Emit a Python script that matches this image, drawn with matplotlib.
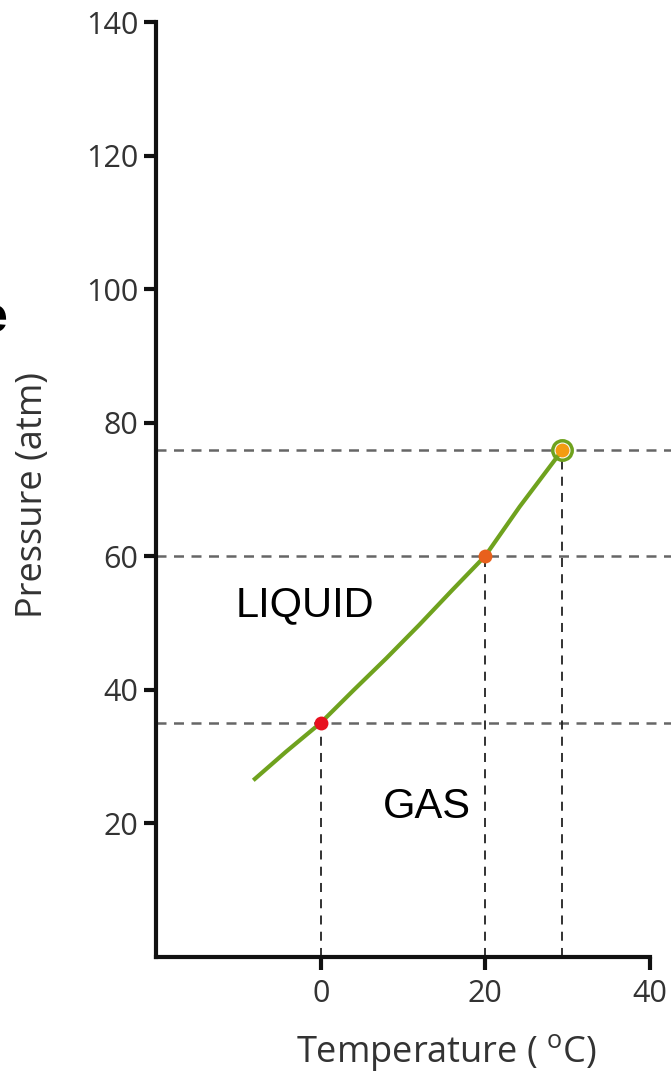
import numpy as np
import matplotlib.pyplot as plt

# vapour pressure curve
temp_curve = [-8.2, -4.2, 0, 4, 8, 12, 16, 20, 24.2, 29.4]
pres_curve = [26.4, 30.7, 35.0, 39.9, 44.7, 49.7, 54.9, 60.0, 67.4, 75.9]

# marked points (temperature, pressure)
temp_pts = [0, 20, 29.4]
pres_pts = [35, 60, 75.9]
pt_colors = ['#E8101E', '#E8601C', '#F39C12']

xticks = [0, 20, 40]
yticks = [20, 40, 60, 80, 100, 120, 140]

fig = plt.figure(figsize=(6.71, 10.79), dpi=100)
ax = fig.add_axes([0, 0, 1, 1])
ax.set_xlim(-39.0, 42.6)
ax.set_ylim(-18.35, 143.3)

ax.spines['top'].set_visible(False)
ax.spines['right'].set_visible(False)
ax.spines['left'].set_position(('data', -20))
ax.spines['bottom'].set_position(('data', 0))
ax.spines['left'].set_bounds(0, 140)
ax.spines['bottom'].set_bounds(-20, 40)
for s in ['left', 'bottom']:
    ax.spines[s].set_linewidth(3)
    ax.spines[s].set_color('#111111')
    ax.spines[s].set_capstyle('projecting')

ax.set_xticks(xticks)
ax.set_yticks(yticks)
ax.tick_params(length=9, width=3, color='#111111', labelcolor='#333333',
               labelsize=22, direction='out')
ax.tick_params(axis='y', pad=4)
ax.tick_params(axis='x', pad=7)
for lab in ax.get_xticklabels() + ax.get_yticklabels():
    lab.set_fontfamily('Open Sans')

# guide lines
for x, y in zip(temp_pts, pres_pts):
    ax.hlines(y, -20, 45, colors='#666666', linestyles=(0, (4, 3)), linewidth=1.8)
    ax.vlines(x, 0, y, colors='#222222', linestyles=(0, (5, 4)), linewidth=1.3)

ax.plot(temp_curve, pres_curve, color='#6FA21E', linewidth=3, solid_capstyle='butt')

for x, y, c in zip(temp_pts, pres_pts, pt_colors):
    ax.plot([x], [y], marker='o', markersize=10, color=c, markeredgewidth=0, zorder=5)
# ring round the critical point
ax.plot([temp_pts[-1]], [pres_pts[-1]], marker='o', markersize=14, markerfacecolor='none',
        markeredgecolor='#6FA21E', markeredgewidth=2.5, linestyle='none', zorder=4)

ax.text(-1.95, 52.7, 'LIQUID', fontsize=30, family='Liberation Sans', ha='center', va='center')
ax.text(12.9, 22.4, 'GAS', fontsize=30, family='Liberation Sans', ha='center', va='center')
ax.text(-38.0, 93.6, 'e', fontsize=36, family='Liberation Sans', weight='bold',
        ha='right', va='baseline')

ax.text(-35.0, 69.1, 'Pressure (atm)', fontsize=26, family='Open Sans', color='#333333',
        rotation=90, ha='center', va='center')
ax.text(15.3, -14.4, 'Temperature ( $^{\\mathregular{o}}$C)', fontsize=26, family='Open Sans',
        color='#333333', ha='center', va='center')

fig.savefig('out.png', dpi=100)
